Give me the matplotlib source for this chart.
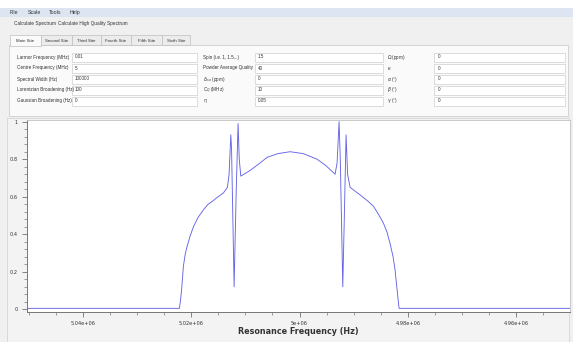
import numpy as np
import matplotlib
matplotlib.use("Agg")
import matplotlib.pyplot as plt
from matplotlib.patches import Rectangle
from matplotlib.ticker import MultipleLocator, FormatStrFormatter

# spectrum (Hz, normalised intensity)
freq = [5.0503e6, 5.02218e6, 5.021956e6, 5.02173e6, 5.02144e6, 5.021125e6,
        5.02081e6, 5.020203e6, 5.01959e6, 5.018727e6, 5.01775e6, 5.016882e6,
        5.01590e6, 5.015037e6, 5.01406e6, 5.01332e6, 5.01301e6, 5.01269e6,
        5.01255e6, 5.01208e6, 5.01172e6, 5.01135e6, 5.01113e6, 5.01085e6,
        5.00913e6, 5.00729e6, 5.00600e6, 5.00397e6, 5.00175e6, 4.99935e6,
        4.99677e6, 4.99511e6, 4.99345e6, 4.99308e6, 4.99271e6, 4.99249e6,
        4.99203e6, 4.99170e6, 4.99142e6, 4.99114e6, 4.99068e6, 4.98976e6,
        4.98884e6, 4.987546e6, 4.98638e6, 4.985517e6, 4.98454e6, 4.983856e6,
        4.98330e6, 4.982749e6, 4.98238e6, 4.98196e6, 4.98164e6, 4.9501e6]
intensity = [0.005, 0.005, 0.05, 0.12, 0.23, 0.29,
             0.33, 0.39, 0.44, 0.49, 0.53, 0.56,
             0.58, 0.60, 0.62, 0.65, 0.72, 0.93,
             0.85, 0.12, 0.6, 0.99, 0.80, 0.71,
             0.74, 0.78, 0.81, 0.83, 0.84, 0.83,
             0.80, 0.765, 0.72, 0.78, 1.0, 0.80,
             0.12, 0.55, 0.93, 0.72, 0.65, 0.63,
             0.61, 0.58, 0.55, 0.51, 0.46, 0.41,
             0.35, 0.28, 0.21, 0.09, 0.005, 0.005]

xticks = [5.04e6, 5.02e6, 5.0e6, 4.98e6, 4.96e6]
yticks = [0, 0.2, 0.4, 0.6, 0.8, 1.0]

menu_items = ["File", "Scale", "Tools", "Help"]
tabs = ["Main Site", "Second Site", "Third Site", "Fourth Site", "Fifth Site", "Sixth Site"]
col1_labels = ["Larmor Frequency (MHz)", "Centre Frequency (MHz)", "Spectral Width (Hz)",
               "Lorentzian Broadening (Hz)", "Gaussian Broadening (Hz)"]
col1_values = ["0.01", "5", "100000", "100", "0"]
col2_labels = ["Spin (i.e. 1, 1.5...)", "Powder Average Quality", r"$\delta_{iso}$ (ppm)",
               r"C$_Q$ (MHz)", r"$\eta$"]
col2_values = ["1.5", "40", "0", "10", "0.05"]
col3_labels = [r"$\Omega$ (ppm)", r"$\kappa$", r"$\alpha$ (°)", r"$\beta$ (°)", r"$\gamma$ (°)"]
col3_values = ["0", "0", "0", "0", "0"]

W, H = 573, 342
fig = plt.figure(figsize=(W / 100, H / 100), dpi=100)
fig.patch.set_facecolor("#f0f0f0")
plt.rcParams["mathtext.fontset"] = "dejavusans"


def box(x0, y0, x1, y1, fc, ec="none", lw=0.5):
    fig.add_artist(Rectangle((x0 / W, 1 - y1 / H), (x1 - x0) / W, (y1 - y0) / H,
                             transform=fig.transFigure, fc=fc, ec=ec, lw=lw, zorder=0))


def txt(x, y, s, size=3.3, **kw):
    fig.text(x / W, 1 - y / H, s, va="center", fontsize=size, color="#333333",
             family="Liberation Sans", **kw)


# window chrome
box(0, 0, W, 8, "white")
box(0, 8, W, 17, "#dde4f2")
mx = 10
for m in menu_items:
    txt(mx, 12.5, m, size=3.8)
    mx += len(m) * 3.0 + 6
txt(14, 24, "Calculate Spectrum", size=3.4)
txt(58, 24, "Calculate High Quality Spectrum", size=3.4)

# tab panel
box(9, 45, 568, 116, "#fafafa", "#c8c8c8")
tab_x = [10, 41, 72, 101, 131, 162, 190]
for i, t in enumerate(tabs):
    fc = "#fafafa" if i == 0 else "#ececec"
    box(tab_x[i], 35, tab_x[i + 1], 45 if i else 46, fc, "#c0c0c0")
    txt((tab_x[i] + tab_x[i + 1]) / 2, 40.5, t, size=3.2, ha="center")

rows = [57, 68, 79, 90, 101]
for i, y in enumerate(rows):
    txt(17, y, col1_labels[i])
    box(72, y - 4.5, 197, y + 4.5, "white", "#cfcfcf")
    txt(75, y, col1_values[i])
    txt(203, y, col2_labels[i])
    box(255, y - 4.5, 383, y + 4.5, "white", "#cfcfcf")
    txt(258, y, col2_values[i])
    txt(387, y, col3_labels[i])
    box(434, y - 4.5, 565, y + 4.5, "white", "#cfcfcf")
    txt(438, y, col3_values[i])

# plot frame
box(7, 118, 569, 342, "#f3f3f3", "#d0d0d0")

ax = fig.add_axes([27 / W, 1 - 312 / H, (570 - 27) / W, (312 - 120) / H])
ax.set_zorder(5)
ax.set_facecolor("white")
ax.plot(freq, intensity, color="#6464e6", lw=0.65)
ax.set_xlim(5.0503e6, 4.9501e6)
ax.set_ylim(-0.0144, 1.009)

ax.set_xticks(xticks)
ax.xaxis.set_major_formatter(FormatStrFormatter("%g"))
ax.xaxis.set_minor_locator(MultipleLocator(5000))
ax.set_yticks(yticks)
ax.yaxis.set_major_formatter(FormatStrFormatter("%g"))
ax.yaxis.set_minor_locator(MultipleLocator(0.04))
ax.tick_params(which="major", direction="out", length=3.5, width=0.5,
               labelsize=3.6, colors="#555555", labelcolor="#333333", pad=3)
ax.tick_params(which="minor", direction="out", length=2, width=0.5, colors="#777777")

for s in ["top", "right"]:
    ax.spines[s].set_color("#c0c0c0")
    ax.spines[s].set_linewidth(0.6)
for s in ["left", "bottom"]:
    ax.spines[s].set_color("#777777")
    ax.spines[s].set_linewidth(0.7)

ax.set_xlabel("Resonance Frequency (Hz)", fontsize=5.8, fontweight="bold",
              color="#333333", labelpad=1)

fig.savefig("out.png", dpi=100, facecolor=fig.get_facecolor())
